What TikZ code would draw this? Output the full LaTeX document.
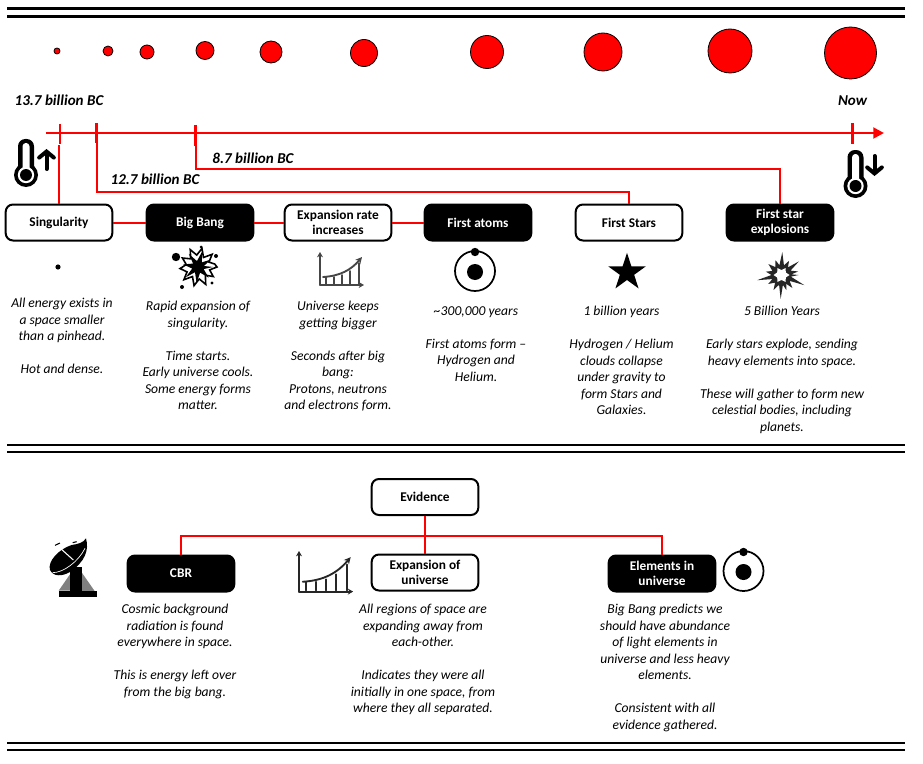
\documentclass[tikz,border=0pt]{standalone}
\usepackage{fontspec}
\setmainfont{Carlito}
\usetikzlibrary{shapes.geometric,arrows.meta}
\definecolor{lred}{RGB}{255,0,0}
\definecolor{icong}{RGB}{70,70,70}
\tikzset{
 whitebox/.style={draw=black,line width=1.5pt,fill=white,rounded corners=5.5pt,minimum width=80pt,minimum height=27pt,inner sep=0pt,align=center,font=\fontsize{10}{12}\selectfont\bfseries},
 blackbox/.style={whitebox,fill=black,text=white},
 link/.style={draw=lred,line width=1.5pt},
 tick/.style={draw=lred,line width=1.6pt},
 body/.style={align=center,anchor=north,inner sep=0pt,font=\fontsize{10.2}{12.4}\selectfont\itshape},
 stamp/.style={inner sep=0pt,font=\fontsize{11.3}{13}\selectfont\bfseries\itshape},
 rule/.style={line width=2.2pt,black},
 ball/.style={draw=black,line width=.6pt,fill=lred},
}
\newcommand{\thermo}[2]{%
 \begin{scope}[shift={(#1,#2)}]
  \fill[black] (0,36) circle (12);
  \fill[black,rounded corners=5.5pt] (-8,0) rectangle (8,36);
  \fill[white] (0,36) circle (8.2);
  \fill[white,rounded corners=2.5pt] (-3.5,4) rectangle (3.5,36);
  \fill[black] (0,36) circle (6);
 \end{scope}}
\newcommand{\growth}[4]{%
 \begin{scope}[shift={(#1,#2)},scale=#3,#4,line width=1.4pt,line cap=round]
  \draw[-{Stealth[length=4pt,width=4.5pt]}] (0,33) -- (0,0);
  \draw[-{Stealth[length=4pt,width=4.5pt]}] (0,33) -- (44,33);
  \draw[-{Stealth[length=5pt,width=5pt]}] (3,25) .. controls (20,24) and (31,18) .. (42,5);
  \foreach \xx/\yy in {6/25,14/25,22/23,30/19,39/11}{\draw (\xx,\yy) -- (\xx,32);}
 \end{scope}}
\newcommand{\atomicon}[2]{%
 \begin{scope}[shift={(#1,#2)}]
  \draw[black,line width=1.3pt] (0,0) circle (20);
  \fill[black] (0,1) circle (8);
  \fill[black] (0,-19) circle (4.2);
 \end{scope}}
\begin{document}
\begin{tikzpicture}[x=0.75pt,y=-0.75pt]
\useasboundingbox (0,0) rectangle (923,763);
% rules
\foreach \yy in {8.5,16.5,445,452,743,750}{\draw[rule] (7,\yy) -- (905,\yy);}
% growing universe
\foreach \xx/\yy/\rr in {57/51/3,108/51/5,147/52/7,205/50.5/9,271/52/11,364/53/13.5,487/52/16.5,603/52/19,730/51/22,850.5/53/26}{\draw[ball] (\xx,\yy) circle (\rr);}
% timeline
\coordinate (tstart) at (46,133); \coordinate (tend) at (884,133);
\coordinate (tA) at (59,133); \coordinate (tB) at (96.5,133); \coordinate (tC) at (195.5,133); \coordinate (tD) at (852.5,133);
\draw[draw=lred,line width=2pt,-{Triangle[length=8pt,width=8pt]}] (tstart) -- (tend);
\draw[tick] (60,124) -- (60,144);
\draw[tick] (tB |- 0,123) -- (tB |- 0,143);
\draw[tick] (tC |- 0,125) -- (tC |- 0,146);
\draw[tick] (tD |- 0,123) -- (tD |- 0,144);
% stamps
\node[stamp] (s137) at (59,100.5) {13.7 billion BC};
\node[stamp] (snow) at (852.5,100.5) {Now};
\node[stamp] (s127) at (155,179.5) {12.7 billion BC};
\node[stamp] (s87) at (253,158.5) {8.7 billion BC};
% boxes
\node[whitebox] (sing) at (59,222.5) {Singularity};
\node[blackbox] (bang) at (200,222.5) {Big Bang};
\node[whitebox] (rate) at (338,222.5) {Expansion rate\\[-.5pt]increases};
\node[blackbox] (atoms) at (478,222.5) {First atoms};
\node[whitebox] (stars) at (629,222.5) {First Stars};
\node[blackbox] (expl) at (780,222.5) {First star\\[-.5pt]explosions};
\node[whitebox] (evid) at (425,497) {Evidence};
\node[blackbox] (cbr) at (181,573.5) {CBR};
\node[whitebox] (expu) at (425,572.5) {Expansion of\\[-.5pt]universe};
\node[blackbox] (elem) at (662,573.5) {Elements in\\[-.5pt]universe};
% connectors
\draw[link] (sing) -- (bang);
\draw[link] (bang) -- (rate);
\draw[link] (rate) -- (atoms);
\draw[link] (sing.north) -- (tA |- 0,145);
\draw[link] (stars.north) -- (stars.north |- 0,192) -- (tB |- 0,192) -- (tB);
\draw[link] (expl.north) -- (expl.north |- 0,168.5) -- (tC |- 0,168.5) -- (tC);
\draw[link] (evid.south) -- (expu.north);
\draw[link] (cbr.north) -- (cbr.north |- 0,536) -- (elem.north |- 0,536) -- (elem.north);
% thermometers
\thermo{26}{139}
\thermo{855.5}{150}
\draw[black,line width=3pt,line cap=round,-{Straight Barb[length=4.5pt,width=11pt,line cap=round]}] (46.5,169) -- (46.5,149);
\draw[black,line width=3pt,line cap=round,-{Straight Barb[length=4.5pt,width=11pt,line cap=round]}] (874.5,156) -- (874.5,176);
% icons
\fill[black] (58,267) circle (2.6);
% big bang burst
\fill[black] (176,257) circle (4.2);
\foreach \xx/\yy/\rr in {201/247/1.5,216/256/2,212/283/1.6,182/287/2}{\fill[black] (\xx,\yy) circle (\rr);}
\draw[black,line width=1.2pt,fill=white] plot[shift={(198,267)}] coordinates {(0:19)(14:12)(32:18)(48:11)(66:19)(84:12)(102:19)(120:11)(138:19)(156:12)(175:18)(192:12)(210:18)(228:11)(246:19)(264:12)(282:19)(300:11)(318:19)(336:12)(350:17)} -- cycle;
\fill[black] plot[shift={(198,267)}] coordinates {(0:15)(20:6)(45:15)(70:6)(95:16)(120:6)(140:16)(165:6)(190:15)(215:6)(235:16)(260:6)(285:16)(310:6)(330:15)(350:6)} -- cycle;
% growth
\growth{320}{252}{1}{icong}
\atomicon{475}{271}
\node[star,star points=5,star point ratio=2.62,fill=black,inner sep=0pt,minimum size=29.5pt] (staricon) at (627,272.5) {};
% explosion
\fill[black!85] plot[shift={(781.5,275)}] coordinates {(0:17)(10:9.5)(24:25)(36:10)(50:17)(62:10)(72:16)(82:10)(92:24)(104:10)(118:17)(130:10)(146:16)(156:10)(168:25)(180:10)(192:16)(204:10)(220:17)(232:10)(248:16)(258:10)(272:23)(284:10)(298:16)(310:10)(322:22)(334:10)(348:17)(356:10)} -- cycle;
\fill[white] plot[shift={(781.5,275)}] coordinates {(0:8)(30:5)(60:8)(90:5)(120:8)(150:5)(180:8)(210:5)(240:8)(270:5)(300:8)(330:5)} -- cycle;
% dish
\begin{scope}[shift={(30,520)},x=0.25pt,y=-0.25pt]
 \fill[black!50] (86,212) -- (122,160) -- (122,212) -- cycle;
 \fill[black!50] (150,150) -- (196,216) -- (150,216) -- cycle;
 \fill[black] (120,140) rectangle (155,230);
 \fill[black] (88,212) rectangle (200,230);
 \fill[black] (168,55) .. controls (178,90) and (165,125) .. (120,156) .. controls (95,170) and (70,170) .. (60,150) .. controls (52,125) and (85,88) .. (125,75) .. controls (145,72) and (160,68) .. (168,55) -- cycle;
 \draw[white,line width=.5pt] (68,158) .. controls (100,158) and (145,125) .. (165,85);
 \draw[white,line width=.8pt] (88,82) -- (130,120);
 \draw[black,line width=.8pt] (75,76) -- (90,69);
 \draw[black,line width=.8pt] (128,68) -- (140,65);
\end{scope}
% lower icons
\growth{299}{551}{1.23}{black!85}
\atomicon{743.5}{571}
% texts
\node[body] (t1) at (62,298) {All energy exists in\\a space smaller\\than a pinhead.\\[12.4pt]Hot and dense.};
\node[body] (t2) at (198,301) {Rapid expansion of\\singularity.\\[12.4pt]Time starts.\\Early universe cools.\\Some energy forms\\matter.};
\node[body] (t3) at (338,301) {Universe keeps\\getting bigger\\[12.4pt]Seconds after big\\bang:\\Protons, neutrons\\and electrons form.};
\node[body] (t4) at (476,306) {\textasciitilde300,000 years\\[12.4pt]First atoms form –\\Hydrogen and\\Helium.};
\node[body] (t5) at (621.5,306) {1 billion years\\[12.4pt]Hydrogen / Helium\\clouds collapse\\under gravity to\\form Stars and\\Galaxies.};
\node[body] (t6) at (782,306) {5 Billion Years\\[12.4pt]Early stars explode, sending\\heavy elements into space.\\[12.4pt]These will gather to form new\\celestial bodies, including\\planets.};
\node[body] (t7) at (175,604) {Cosmic background\\radiation is found\\everywhere in space.\\[12.4pt]This is energy left over\\from the big bang.};
\node[body] (t8) at (423,604) {All regions of space are\\expanding away from\\each-other.\\[12.4pt]Indicates they were all\\initially in one space, from\\where they all separated.};
\node[body] (t9) at (665,604) {Big Bang predicts we\\should have abundance\\of light elements in\\universe and less heavy\\elements.\\[12.4pt]Consistent with all\\evidence gathered.};
\end{tikzpicture}
\end{document}
